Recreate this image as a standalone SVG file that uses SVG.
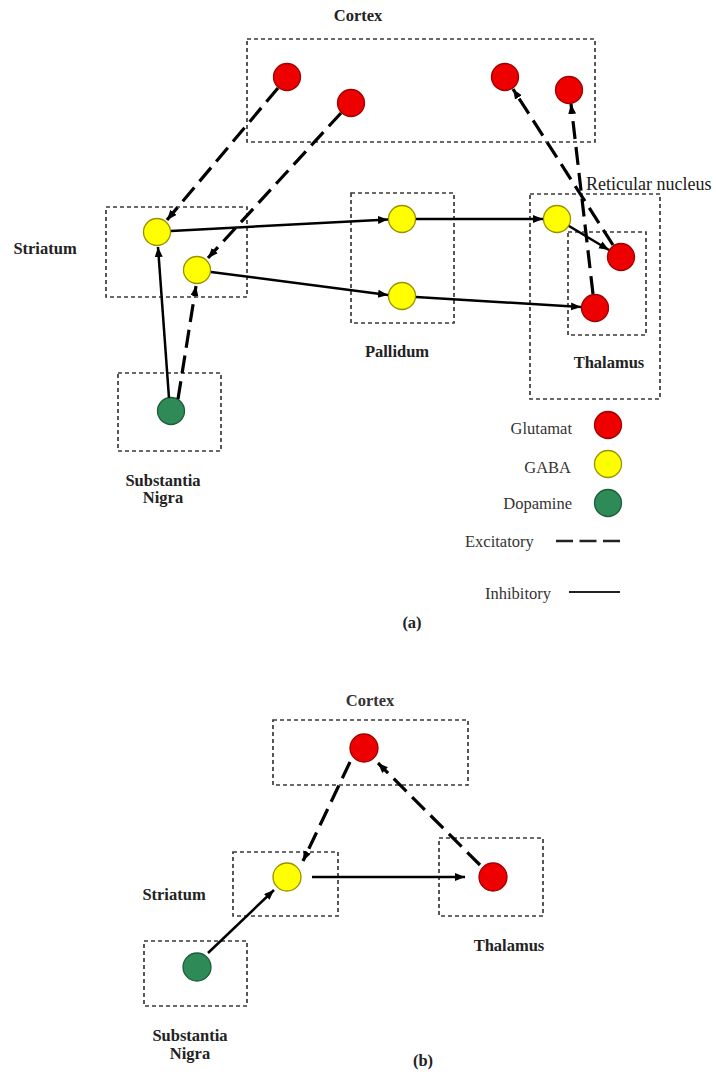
<svg xmlns="http://www.w3.org/2000/svg" width="716" height="1072" viewBox="0 0 716 1072">
<style>
.box{fill:none;stroke:#3a3a3a;stroke-width:1.7;stroke-dasharray:4 3}
.glu{fill:#ee0000;stroke:#a00000;stroke-width:1.3}
.gaba{fill:#ffff00;stroke:#9a9000;stroke-width:1.3}
.dop{fill:#2e8b57;stroke:#1d5c3a;stroke-width:1.3}
.lbl{font-family:"Liberation Serif",serif;font-weight:bold;font-size:16.5px;fill:#222}
.leg{font-family:"Liberation Serif",serif;font-size:16.5px;fill:#333}
.ret{font-family:"Liberation Serif",serif;font-size:18px;fill:#1a1a1a}
.exc{fill:none;stroke:#000;stroke-width:3.2;stroke-dasharray:18 8}
.inh{fill:none;stroke:#000;stroke-width:2.5}
.m{fill:#000;stroke:none}
</style>
<defs>
<marker id="ah" markerUnits="userSpaceOnUse" markerWidth="11" markerHeight="9" refX="10" refY="4" orient="auto">
<path class="m" d="M0,0 L10,4 L0,8 z"/>
</marker>
</defs>
<rect width="716" height="1072" fill="#fff"/>

<!-- ===== (a) ===== -->
<g id="a-cortex">
<text class="lbl" x="358" y="21" text-anchor="middle">Cortex</text>
<rect class="box" x="247" y="39" width="348" height="103"/>
<circle id="a-ctx1" class="glu" cx="287" cy="77" r="13.5"/>
<circle id="a-ctx2" class="glu" cx="351" cy="103" r="13.5"/>
<circle id="a-ctx3" class="glu" cx="505" cy="77" r="13.5"/>
<circle id="a-ctx4" class="glu" cx="569" cy="90" r="13.5"/>
</g>
<g id="a-striatum">
<text class="lbl" x="45" y="254" text-anchor="middle">Striatum</text>
<rect class="box" x="106" y="207" width="141" height="90"/>
<circle id="a-str1" class="gaba" cx="157" cy="232" r="13.5"/>
<circle id="a-str2" class="gaba" cx="197" cy="270" r="13.5"/>
</g>
<g id="a-nigra">
<rect class="box" x="118" y="373" width="103" height="78"/>
<circle id="a-sn" class="dop" cx="171" cy="411" r="13.5"/>
<text class="lbl" x="163" y="486" text-anchor="middle">Substantia</text>
<text class="lbl" x="163" y="503" text-anchor="middle">Nigra</text>
</g>
<g id="a-pallidum">
<rect class="box" x="351" y="193" width="103" height="130"/>
<circle id="a-pal1" class="gaba" cx="402" cy="219" r="13.5"/>
<circle id="a-pal2" class="gaba" cx="402" cy="296" r="13.5"/>
<text class="lbl" x="397" y="357" text-anchor="middle">Pallidum</text>
</g>
<g id="a-reticular">
<rect class="box" x="530" y="194" width="130" height="205"/>
<text class="ret" x="586" y="190">Reticular nucleus</text>
<circle id="a-ret" class="gaba" cx="557" cy="219" r="13.5"/>
</g>
<g id="a-thalamus">
<rect class="box" x="568" y="232" width="78" height="103"/>
<circle id="a-th1" class="glu" cx="621" cy="257" r="13.5"/>
<circle id="a-th2" class="glu" cx="595" cy="308" r="13.5"/>
<text class="lbl" x="609" y="368" text-anchor="middle">Thalamus</text>
</g>

<g id="a-connectors">
<line class="exc" x1="278" y1="88" x2="167" y2="220" marker-end="url(#ah)"/>
<line class="exc" x1="341" y1="113" x2="208" y2="258" marker-end="url(#ah)"/>
<line class="inh" x1="169" y1="398" x2="158" y2="247" marker-end="url(#ah)"/>
<line class="exc" x1="178" y1="399" x2="196" y2="286" marker-end="url(#ah)"/>
<line class="inh" x1="171" y1="231" x2="388" y2="219.5" marker-end="url(#ah)"/>
<line class="inh" x1="211" y1="272" x2="388" y2="295" marker-end="url(#ah)"/>
<line class="inh" x1="416" y1="219" x2="543" y2="219" marker-end="url(#ah)"/>
<line class="inh" x1="416" y1="297" x2="581" y2="307" marker-end="url(#ah)"/>
<line class="inh" x1="569" y1="226" x2="609" y2="250" marker-end="url(#ah)"/>
<line class="exc" x1="613" y1="245" x2="513" y2="89" marker-end="url(#ah)"/>
<line class="exc" x1="593" y1="294" x2="571" y2="104" marker-end="url(#ah)"/>
</g>

<g id="legend">
<text class="leg" x="572" y="434" text-anchor="end">Glutamat</text>
<circle class="glu" cx="608" cy="425" r="13.5"/>
<text class="leg" x="571" y="473" text-anchor="end">GABA</text>
<circle class="gaba" cx="608" cy="464" r="13.5"/>
<text class="leg" x="572" y="509" text-anchor="end">Dopamine</text>
<circle class="dop" cx="608" cy="503" r="13.5"/>
<text class="leg" x="465" y="547">Excitatory</text>
<line x1="556" y1="541" x2="620" y2="541" stroke="#222" stroke-width="2.5" stroke-dasharray="17 6.5"/>
<text class="leg" x="485" y="599">Inhibitory</text>
<line x1="569" y1="592" x2="620" y2="592" stroke="#222" stroke-width="2"/>
</g>

<text class="lbl" x="412" y="628" text-anchor="middle">(a)</text>

<!-- ===== (b) ===== -->
<g id="b-cortex">
<text class="leg" x="370" y="706" text-anchor="middle" font-weight="bold">Cortex</text>
<rect class="box" x="273" y="720" width="195" height="65"/>
<circle id="b-ctx" class="glu" cx="364" cy="748" r="14"/>
</g>
<g id="b-striatum">
<text class="lbl" x="174" y="900" text-anchor="middle">Striatum</text>
<rect class="box" x="233" y="852" width="105" height="64"/>
<circle id="b-str" class="gaba" cx="287" cy="877" r="14"/>
</g>
<g id="b-thalamus">
<rect class="box" x="439" y="838" width="104" height="78"/>
<circle id="b-th" class="glu" cx="493" cy="877" r="14"/>
<text class="lbl" x="509" y="951" text-anchor="middle">Thalamus</text>
</g>
<g id="b-nigra">
<rect class="box" x="144" y="941" width="103" height="65"/>
<circle id="b-sn" class="dop" cx="197" cy="967" r="14"/>
<text class="lbl" x="190" y="1041" text-anchor="middle">Substantia</text>
<text class="lbl" x="190" y="1059" text-anchor="middle">Nigra</text>
</g>
<g id="b-connectors">
<line class="exc" x1="350" y1="762" x2="303" y2="861" marker-end="url(#ah)"/>
<line class="exc" x1="480" y1="865" x2="378" y2="763" marker-end="url(#ah)"/>
<line class="inh" x1="312" y1="877" x2="465" y2="877" marker-end="url(#ah)"/>
<line class="inh" x1="208" y1="953" x2="274" y2="890" marker-end="url(#ah)"/>
</g>
<text class="lbl" x="423" y="1066" text-anchor="middle">(b)</text>
</svg>
